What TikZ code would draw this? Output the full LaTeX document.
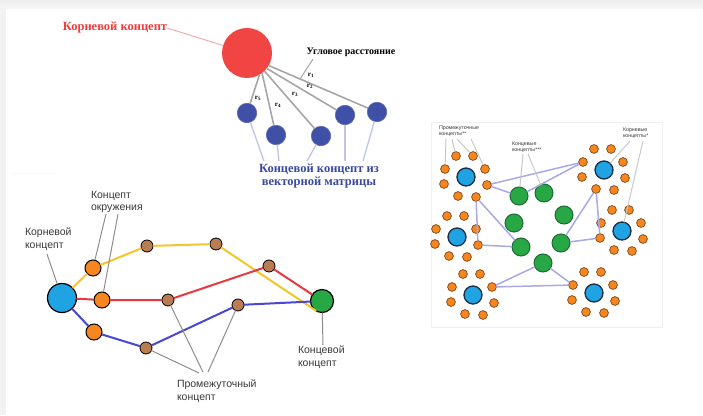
\documentclass[tikz,border=0pt]{standalone}
\usepackage{fontspec}
\setmainfont{Liberation Serif}
\setsansfont{Liberation Sans}
\usetikzlibrary{calc}

\definecolor{rootRed}{HTML}{F04543}
\definecolor{titleRed}{HTML}{F23B3B}
\definecolor{pinkLead}{HTML}{F4A6A6}
\definecolor{vecBlue}{HTML}{3F50A6}
\definecolor{vecText}{HTML}{3A4A9E}
\definecolor{leadBlue}{HTML}{BFC6E4}
\definecolor{angGray}{HTML}{A6A6A6}
\definecolor{cyanB}{HTML}{1FA3E3}
\definecolor{orangeL}{HTML}{F7861F}
\definecolor{brownL}{HTML}{B97C53}
\definecolor{greenL}{HTML}{27A845}
\definecolor{pathYellow}{HTML}{F6C52A}
\definecolor{pathRed}{HTML}{E8393F}
\definecolor{pathBlue}{HTML}{4848D2}
\definecolor{leadGray}{HTML}{8E8E8E}
\definecolor{textGray}{HTML}{3A3A3A}
\definecolor{navyRim}{HTML}{1B2D45}
\definecolor{greenRim}{HTML}{1F6A32}
\definecolor{dotRim}{HTML}{8A4E1E}
\definecolor{lavender}{HTML}{A9A9E6}
\definecolor{paleLead}{HTML}{C9C9C9}

\begin{document}
\begin{tikzpicture}[x=1pt,y=-1pt,
  every node/.style={inner sep=0pt,outer sep=0pt},
  % upper scheme
  rootred/.style={circle,fill=rootRed,minimum size=50pt},
  vecnode/.style={circle,fill=vecBlue,draw=vecBlue!85!white,line width=0.6pt,minimum size=19.5pt},
  angline/.style={draw=angGray,line width=1.6pt},
  vecleader/.style={draw=leadBlue,line width=1.3pt},
  rlabel/.style={font=\bfseries\fontsize{7}{7}\selectfont},
  % path scheme
  rootL/.style={circle,draw=black,line width=1.2pt,fill=cyanB,minimum size=29pt},
  envL/.style={circle,draw=black,line width=1pt,fill=orangeL,minimum size=16pt},
  midL/.style={circle,draw=black,line width=0.8pt,fill=brownL,minimum size=12pt},
  endL/.style={circle,draw=black,line width=1.2pt,fill=greenL,minimum size=23pt},
  trail/.style={line width=2pt,line join=round},
  gleader/.style={draw=leadGray,line width=1pt},
  lbl/.style={font=\sffamily\fontsize{10.5}{12.5}\selectfont,text=textGray,align=left,anchor=west},
  % cluster scheme
  hubB/.style={circle,fill=cyanB,draw=navyRim,line width=1.3pt,minimum size=18pt},
  leafG/.style={circle,fill=greenL,draw=greenRim,line width=1pt,minimum size=18pt},
  dotO/.style={circle,fill=orangeL,draw=dotRim,line width=0.8pt,minimum size=8.8pt},
  link/.style={draw=lavender,line width=1.5pt},
  pleader/.style={draw=paleLead,line width=1pt},
  tiny/.style={font=\sffamily\fontsize{5.3}{6}\selectfont,text=textGray,align=left,anchor=west}]

\useasboundingbox (0,0) rectangle (703,415);
\fill[white] (0,0) rectangle (703,415);
\shade[top color=gray!14,bottom color=gray!7] (0,0) rectangle (703,8);
\fill[gray!10] (0,8) rectangle (6,415);
\draw[gray!6,line width=0.6pt] (13,173) -- (57,173);

% ---------- angular distance scheme ----------
\node[rootred] (R) at (247,53) {};
\foreach \n/\x/\y in {1/247/113,2/276/135,3/321/136,4/345/115,5/377/112}
  \node[vecnode] (b\n) at (\x,\y) {};
\draw[angline] (R.-30) -- (b5);
\draw[angline] (R.-38) -- (b4);
\draw[angline] (R.-46) -- (b3);
\draw[angline] (R.-53) -- (b2);
\draw[angline] (R.-60) -- (b1);
\node[rlabel] (r1) at (311,75) {r\textsubscript{1}};
\node[rlabel] (r2) at (310,86) {r\textsubscript{2}};
\node[rlabel] (r3) at (295,94) {r\textsubscript{3}};
\node[rlabel] (r4) at (278,105) {r\textsubscript{4}};
\node[rlabel] (r5) at (258,98) {r\textsubscript{5}};

\node[font=\bfseries\fontsize{12.5}{14}\selectfont,text=titleRed] (rtitle) at (115,28) {Корневой концепт};
\draw[draw=pinkLead,line width=0.9pt] (rtitle.east) -- (R);

\node[font=\bfseries\fontsize{10}{12}\selectfont] (angtxt) at (351,52) {Угловое расстояние};
\coordinate (angfoot) at (313,59);
\coordinate (angmeet) at ($(R.-30)!0.29!(b5)$);
\draw[angline,line width=1pt] (angfoot) -- (angmeet);

\node[font=\bfseries\fontsize{12.5}{13}\selectfont,text=vecText,align=center] (vtxt) at (319,176)
  {Концевой концепт из\\векторной матрицы};
\coordinate (t1) at (264,161);
\coordinate (t2) at (279,161);
\coordinate (t3) at (307,161);
\coordinate (t4) at (345,161);
\coordinate (t5) at (363,161);
\foreach \n in {1,...,5} \draw[vecleader] (b\n) -- (t\n);

% ---------- concept path scheme ----------
\node[rootL] (B) at (62,298) {};
\node[envL] (o1) at (93,268) {};
\node[envL] (o2) at (102,300) {};
\node[envL] (o3) at (94,332) {};
\node[midL] (m1) at (147,246) {};
\node[midL] (m2) at (216,244) {};
\node[midL] (m3) at (269,266) {};
\node[midL] (m4) at (168,300) {};
\node[midL] (m5) at (238,305) {};
\node[midL] (m6) at (146,348) {};
\node[endL] (G) at (322,301) {};

\draw[trail,pathYellow] (B) -- (o1) -- (m1) -- (m2) -- (G.240);
\draw[trail,pathRed] (B) -- (o2) -- (m4) -- (m3) -- (G);
\draw[trail,pathBlue] (B) -- (o3) -- (m6) -- (m5) -- (G);

\node[lbl] (lroot) at (25,239) {Корневой\\концепт};
\coordinate (lrootfoot) at (47,254);
\draw[gleader] (lrootfoot) -- (B);

\node[lbl] (lenv) at (91,202) {Концепт\\окружения};
\coordinate (lenv1) at (106,214);
\coordinate (lenv2) at (118,214);
\draw[gleader] (lenv1) -- (o1);
\draw[gleader] (lenv2) -- (o2);

\node[lbl] (lmid) at (177,391) {Промежуточный\\концепт};
\coordinate (lmid1) at (199,373);
\coordinate (lmid2) at (203,372);
\coordinate (lmid3) at (208,372);
\draw[gleader] (lmid1) -- (m6);
\draw[gleader] (lmid2) -- (m4);
\draw[gleader] (lmid3) -- (m5);

\node[lbl] (lend) at (298,357) {Концевой\\концепт};
\coordinate (lendtop) at (323,345);
\draw[gleader] (lendtop) -- (G);

% ---------- cluster scheme ----------
\draw[gray!12,line width=0.8pt] (431,122) rectangle (662,327);
\foreach \c/\x/\y in {1/466/177,2/604/170,3/457/237,4/622/231,5/473/295,6/594/293}{
  \node[hubB] (C\c) at (\x,\y) {};
  \foreach \k/\dx/\dy in {1/-10/-21,2/7/-21,3/-21/-8,4/19/-8,5/-22/7,6/21/8,7/-8/19,8/10/20}
    \node[dotO] (C\c o\k) at (\x+\dx,\y+\dy) {};
}
\node[leafG] (G1) at (519,196) {};
\node[leafG] (G2) at (544,193) {};
\node[leafG] (G3) at (514,223) {};
\node[leafG] (G4) at (564,215) {};
\node[leafG] (G5) at (521,247) {};
\node[leafG] (G6) at (561,243) {};
\node[leafG] (G7) at (543,263) {};

\draw[link] (C1o6) -- (G1);
\draw[link] (C1o6) -- (C2o3);
\draw[link] (G1) -- (C2o3);
\draw[link] (C1o8) -- (G5);
\draw[link] (C1o8) -- (C3o6) -- (G5);
\draw[link] (C2o7) -- (G6);
\draw[link] (C2o7) -- (C4o5) -- (G6);
\draw[link] (G7) -- (C5o4);
\draw[link] (G7) -- (C6o3);
\draw[link] (C5o4) -- (C6o3);

\node[tiny] (tmid) at (439,131) {Промежуточные\\концепты**};
\coordinate (pm1) at (446,139);
\coordinate (pm2) at (452,139);
\coordinate (pm3) at (457,139);
\coordinate (pm4) at (471,139);
\draw[pleader] (pm1) -- (C1o3);
\draw[pleader] (pm2) -- (C1o1);
\draw[pleader] (pm3) -- (C1o2);
\draw[pleader] (pm4) -- (C1o4);

\node[tiny] (tend) at (512,147) {Концевые\\концепты***};
\coordinate (pe1) at (523,154);
\coordinate (pe2) at (528,154);
\draw[pleader] (pe1) -- (G1);
\draw[pleader] (pe2) -- (G2);

\node[tiny] (troot) at (623,133) {Корневые\\концепты*};
\coordinate (pr1) at (630,141);
\coordinate (pr2) at (643,141);
\draw[pleader] (pr1) -- (C2);
\draw[pleader] (pr2) -- (C4);
\end{tikzpicture}
\end{document}
